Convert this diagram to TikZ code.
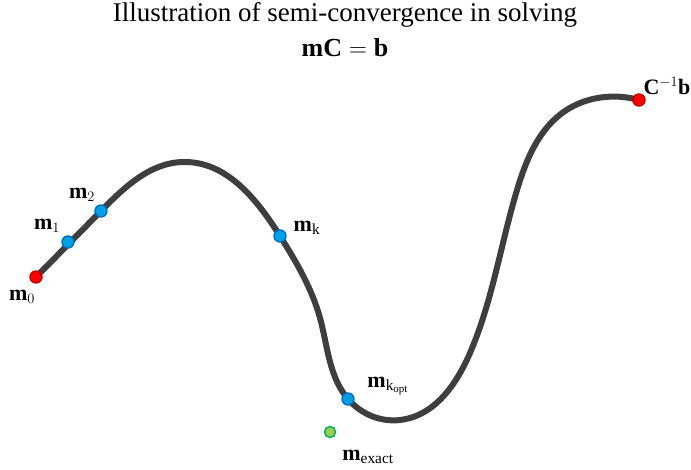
\documentclass[tikz,border=0pt]{standalone}
\usepackage{fontspec}
\setmainfont{Liberation Serif}
\usetikzlibrary{hobby}
\definecolor{curvegray}{RGB}{62,62,62}
\definecolor{bfill}{RGB}{0,160,232}
\definecolor{bline}{RGB}{0,112,192}
\definecolor{rfill}{RGB}{255,0,0}
\definecolor{rline}{RGB}{200,0,0}
\definecolor{gfill}{RGB}{146,208,80}
\definecolor{gline}{RGB}{0,176,80}
\begin{document}
\begin{tikzpicture}[x=1pt,y=-1pt,
  curve/.style={line width=6pt,color=curvegray,line cap=round},
  bluedot/.style={circle,draw=bline,line width=1.4pt,fill=bfill,inner sep=0pt,minimum size=12pt},
  reddot/.style={circle,draw=rline,line width=1.4pt,fill=rfill,inner sep=0pt,minimum size=12pt},
  greendot/.style={circle,draw=gline,line width=1.4pt,fill=gfill,inner sep=0pt,minimum size=11pt},
  lbl/.style={font=\fontsize{22}{24}\selectfont,inner sep=0pt}]
\useasboundingbox (0,0) rectangle (691,470);
\node[font=\fontsize{27}{30}\selectfont] (t1) at (345,15) {Illustration of semi-convergence in solving};
\node[font=\fontsize{26}{30}\selectfont] (t2) at (345,48) {$\mathbf{mC}=\mathbf{b}$};
\coordinate (p0) at (36,277);
\coordinate (pend) at (639,100);
\draw[curve,use Hobby shortcut] (p0) .. (101,211) .. (183,162) .. (280,236) .. (320,318) .. (348,399) .. (400,420) .. (470,353) .. (517,190) .. (565,111) .. (605,97) .. (pend);
\node[reddot] (m0) at (p0) {};
\node[bluedot] (m1) at (68,242) {};
\node[bluedot] (m2) at (101,211) {};
\node[bluedot] (mk) at (280,236) {};
\node[bluedot] (mko) at (348,399) {};
\node[greendot] (me) at (330,432) {};
\node[reddot] (cb) at (pend) {};
\node[lbl] (l0) at (22,297) {$\mathbf{m}_0$};
\node[lbl] (l1) at (47,226) {$\mathbf{m}_1$};
\node[lbl] (l2) at (82,195) {$\mathbf{m}_2$};
\node[lbl] (lk) at (307,228) {$\mathbf{m}_\mathrm{k}$};
\node[lbl] (lko) at (388,386) {$\mathbf{m}_{\mathrm{k}_\mathrm{opt}}$};
\node[lbl] (le) at (368,457) {$\mathbf{m}_\mathrm{exact}$};
\node[lbl] (lc) at (667,86) {$\mathbf{C}^{-1}\mathbf{b}$};
\end{tikzpicture}
\end{document}
